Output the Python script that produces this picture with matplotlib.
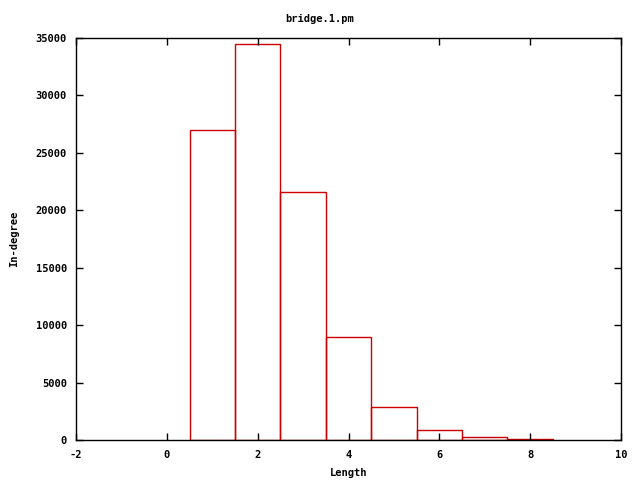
import matplotlib
matplotlib.use("Agg")
import matplotlib.pyplot as plt

lengths = [1, 2, 3, 4, 5, 6, 7, 8]
counts = [27000, 34500, 21600, 9000, 2850, 850, 240, 60]
xticks = [-2, 0, 2, 4, 6, 8, 10]
yticks = [0, 5000, 10000, 15000, 20000, 25000, 30000, 35000]

plt.rcParams['font.family'] = ['DejaVu Sans Mono']
plt.rcParams['font.weight'] = 'bold'
plt.rcParams['font.size'] = 7.5

fig = plt.figure(figsize=(6.4, 4.8), dpi=100)
ax = fig.add_axes([76/640, 1-440/480, (621-76)/640, (440-38)/480])
ax.bar(lengths, counts, width=1.0, fill=False, edgecolor='#cc0000', linewidth=1.0)
ax.set_xlim(-2, 10)
ax.set_ylim(0, 35000)
ax.set_xticks(xticks)
ax.set_yticks(yticks)
ax.set_xticklabels([str(t) for t in xticks], fontweight='bold')
ax.set_yticklabels([str(t) for t in yticks], fontweight='bold')
ax.tick_params(direction='in', top=True, right=True, length=5, width=1)
ax.tick_params(axis='x', pad=7)
ax.tick_params(axis='y', pad=6.5)
for s in ax.spines.values():
    s.set_linewidth(1)
ax.set_xlabel('Length', fontweight='bold', labelpad=6)
ax.set_ylabel('In-degree', fontweight='bold', labelpad=12)
fig.text(0.5, 1-19/480, 'bridge.1.pm', ha='center', va='center', fontweight='bold', fontsize=7.5)
fig.savefig('out.png', dpi=100)
